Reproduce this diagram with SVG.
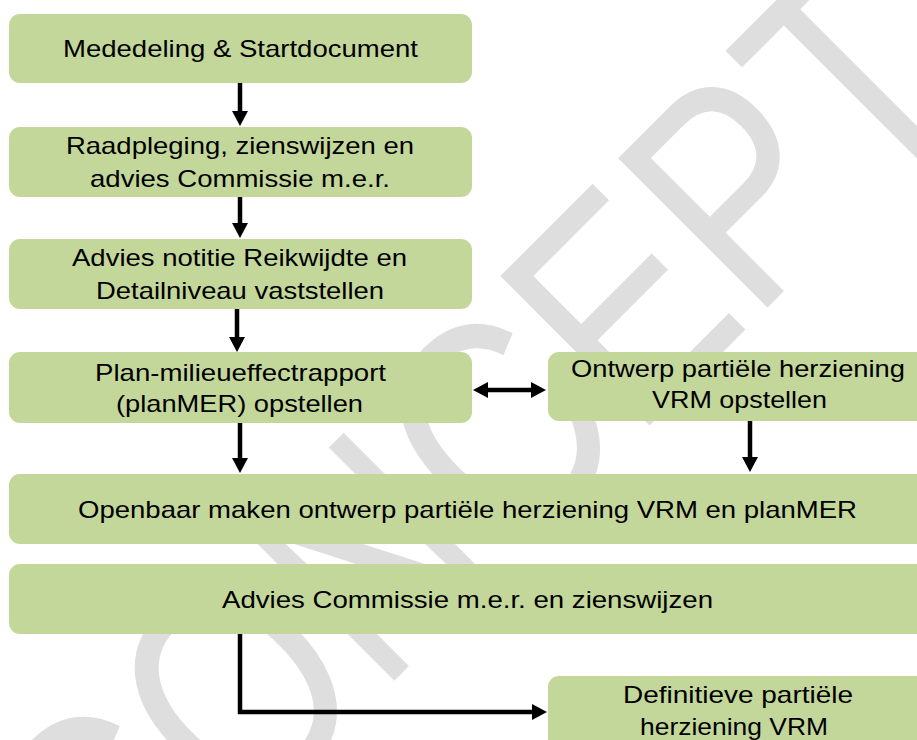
<svg xmlns="http://www.w3.org/2000/svg" width="917" height="740" viewBox="0 0 917 740">
<defs>
<style>
.box{fill:#c4d79b;}
.t{font-family:"Liberation Sans",Arial,sans-serif;font-size:24px;fill:#000;text-anchor:start;}
.wm{font-family:"Liberation Sans",Arial,sans-serif;font-size:250px;fill:#dedede;}
.c{fill:none;stroke:#000;stroke-width:4.5;}
</style>
<marker id="ah" markerUnits="userSpaceOnUse" markerWidth="16" markerHeight="16" refX="2" refY="8" orient="auto-start-reverse" viewBox="0 0 16 16">
<path d="M0,0 L15,8 L0,16 z" fill="#000"/>
</marker>
</defs>
<rect width="917" height="740" fill="#fff"/>
<g id="watermark">
<text class="wm" transform="translate(114.6,960.4) rotate(-45) scale(1,1.228)">CONCEPT</text>
</g>
<g id="n1">
<rect class="box" x="9" y="14" width="463" height="69" rx="11"/>
<text class="t" x="63" y="57" textLength="355" lengthAdjust="spacingAndGlyphs">Mededeling &amp; Startdocument</text>
</g>
<g id="n2">
<rect class="box" x="9" y="127" width="463" height="70" rx="11"/>
<text class="t" x="66" y="154" textLength="348" lengthAdjust="spacingAndGlyphs">Raadpleging, zienswijzen en</text>
<text class="t" x="90" y="187" textLength="300" lengthAdjust="spacingAndGlyphs">advies Commissie m.e.r.</text>
</g>
<g id="n3">
<rect class="box" x="9" y="239" width="463" height="70" rx="11"/>
<text class="t" x="72" y="266" textLength="335" lengthAdjust="spacingAndGlyphs">Advies notitie Reikwijdte en</text>
<text class="t" x="96" y="299" textLength="288" lengthAdjust="spacingAndGlyphs">Detailniveau vaststellen</text>
</g>
<g id="n4">
<rect class="box" x="9" y="352" width="463" height="71" rx="11"/>
<text class="t" x="95" y="381" textLength="291" lengthAdjust="spacingAndGlyphs">Plan-milieueffectrapport</text>
<text class="t" x="116" y="412" textLength="247" lengthAdjust="spacingAndGlyphs">(planMER) opstellen</text>
</g>
<g id="n5">
<rect class="box" x="548" y="352" width="380" height="69" rx="11"/>
<text class="t" x="571" y="377" textLength="334" lengthAdjust="spacingAndGlyphs">Ontwerp partiële herziening</text>
<text class="t" x="652" y="408" textLength="175" lengthAdjust="spacingAndGlyphs">VRM opstellen</text>
</g>
<g id="n6">
<rect class="box" x="9" y="474" width="920" height="70" rx="11"/>
<text class="t" x="78" y="518" textLength="779" lengthAdjust="spacingAndGlyphs">Openbaar maken ontwerp partiële herziening VRM en planMER</text>
</g>
<g id="n7">
<rect class="box" x="9" y="564" width="920" height="70" rx="11"/>
<text class="t" x="222" y="608" textLength="491" lengthAdjust="spacingAndGlyphs">Advies Commissie m.e.r. en zienswijzen</text>
</g>
<g id="n8">
<rect class="box" x="548" y="676" width="380" height="80" rx="11"/>
<text class="t" x="623" y="703" textLength="230" lengthAdjust="spacingAndGlyphs">Definitieve partiële</text>
<text class="t" x="640" y="735" textLength="188" lengthAdjust="spacingAndGlyphs">herziening VRM</text>
</g>
<g id="connectors">
<line class="c" x1="240" y1="83" x2="240" y2="113" marker-end="url(#ah)"/>
<line class="c" x1="240" y1="197" x2="240" y2="225" marker-end="url(#ah)"/>
<line class="c" x1="237" y1="309" x2="237" y2="339" marker-end="url(#ah)"/>
<line class="c" x1="240" y1="423" x2="240" y2="460" marker-end="url(#ah)"/>
<line class="c" x1="750" y1="421" x2="750" y2="459" marker-end="url(#ah)"/>
<line class="c" x1="486" y1="390" x2="533" y2="390" marker-start="url(#ah)" marker-end="url(#ah)"/>
<path class="c" d="M240,634 V712 H534" marker-end="url(#ah)"/>
</g>
</svg>
